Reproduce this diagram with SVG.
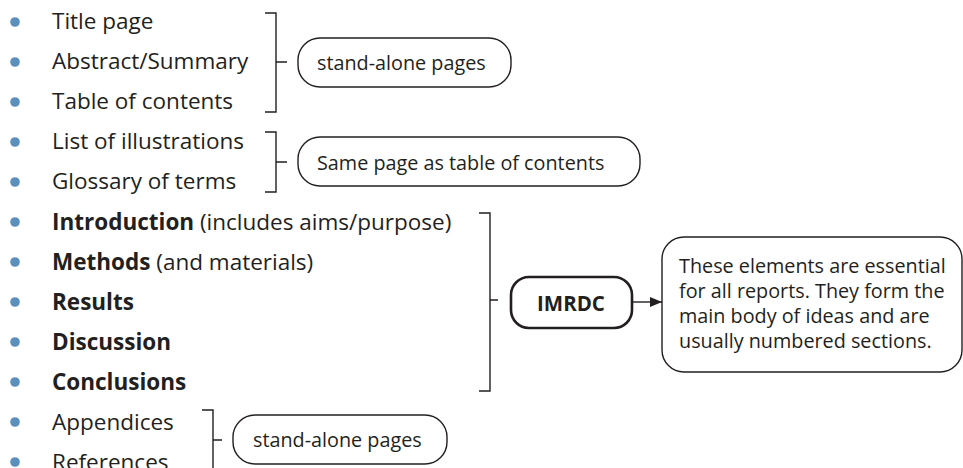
<svg xmlns="http://www.w3.org/2000/svg" width="963" height="468" viewBox="0 0 963 468">
  <defs>
    <style>
      .item { font-family: "Open Sans", "Noto Sans", sans-serif; font-size: 22.5px; fill: #231f20; }
      .b { font-weight: bold; }
      .dot { fill: #5b8fbd; }
      .brace { fill: none; stroke: #231f20; stroke-width: 1.4; }
      .box { fill: #ffffff; stroke: #231f20; stroke-width: 1.4; }
      .box-strong { fill: #ffffff; stroke: #231f20; stroke-width: 2.6; }
      .lbl { font-family: "Open Sans", "Noto Sans", sans-serif; font-size: 19.8px; fill: #231f20; }
      .conn { fill: none; stroke: #231f20; stroke-width: 1.4; }
    </style>
    <marker id="arrow" viewBox="0 0 12 10" refX="12" refY="5" markerWidth="12" markerHeight="10" markerUnits="userSpaceOnUse" orient="auto">
      <path d="M0,0 L12,5 L0,10 z" fill="#231f20"/>
    </marker>
  </defs>
  <rect width="963" height="468" fill="#ffffff"/>

  <!-- bulleted list of report parts -->
  <g id="list">
    <circle class="dot" cx="15" cy="22" r="4.8"/><text class="item" x="52" y="29">Title page</text>
    <circle class="dot" cx="15" cy="62" r="4.8"/><text class="item" x="52" y="69">Abstract/Summary</text>
    <circle class="dot" cx="15" cy="102" r="4.8"/><text class="item" x="52" y="109">Table of contents</text>
    <circle class="dot" cx="15" cy="142" r="4.8"/><text class="item" x="52" y="149">List of illustrations</text>
    <circle class="dot" cx="15" cy="182" r="4.8"/><text class="item" x="52" y="189">Glossary of terms</text>
    <circle class="dot" cx="15" cy="222" r="4.8"/><text class="item" x="52" y="230"><tspan class="b">Introduction</tspan> (includes aims/purpose)</text>
    <circle class="dot" cx="15" cy="262" r="4.8"/><text class="item" x="52" y="270"><tspan class="b">Methods</tspan> (and materials)</text>
    <circle class="dot" cx="15" cy="302" r="4.8"/><text class="item b" x="52" y="310">Results</text>
    <circle class="dot" cx="15" cy="342" r="4.8"/><text class="item b" x="52" y="350">Discussion</text>
    <circle class="dot" cx="15" cy="382" r="4.8"/><text class="item b" x="52" y="390">Conclusions</text>
    <circle class="dot" cx="15" cy="422" r="4.8"/><text class="item" x="52" y="430">Appendices</text>
    <circle class="dot" cx="15" cy="462" r="4.8"/><text class="item" x="52" y="470">References</text>
  </g>

  <!-- braces grouping the list items -->
  <g id="braces">
    <path class="brace" d="M265,13 H276 V112 H265 M276,62 H287"/>
    <path class="brace" d="M265,132 H276 V192 H265 M276,162 H287"/>
    <path class="brace" d="M479,213 H490 V391 H479 M490,300 H498"/>
    <path class="brace" d="M202,410 H213 V470 M213,440 H222"/>
  </g>

  <g id="front-matter">
    <rect class="box" x="298" y="38" width="213" height="49" rx="22"/>
    <text class="lbl" x="317" y="70">stand-alone pages</text>
  </g>

  <g id="same-page">
    <rect class="box" x="298" y="137" width="342" height="49" rx="22"/>
    <text class="lbl" x="317" y="170">Same page as table of contents</text>
  </g>

  <g id="imrdc">
    <rect class="box-strong" x="511" y="277" width="121" height="51" rx="18"/>
    <text class="lbl b" x="571" y="311" text-anchor="middle" style="font-size:20.5px">IMRDC</text>
  </g>

  <g id="essential-note">
    <rect class="box" x="662" y="237" width="300" height="135" rx="22"/>
    <text class="lbl" x="679" y="273">These elements are essential</text>
    <text class="lbl" x="679" y="298">for all reports. They form the</text>
    <text class="lbl" x="679" y="323">main body of ideas and are</text>
    <text class="lbl" x="679" y="348">usually numbered sections.</text>
  </g>

  <g id="back-matter">
    <rect class="box" x="233" y="415" width="214" height="49" rx="22"/>
    <text class="lbl" x="253" y="447">stand-alone pages</text>
  </g>

  <g id="connectors">
    <line class="conn" x1="632" y1="302" x2="662" y2="302" marker-end="url(#arrow)"/>
  </g>
</svg>
